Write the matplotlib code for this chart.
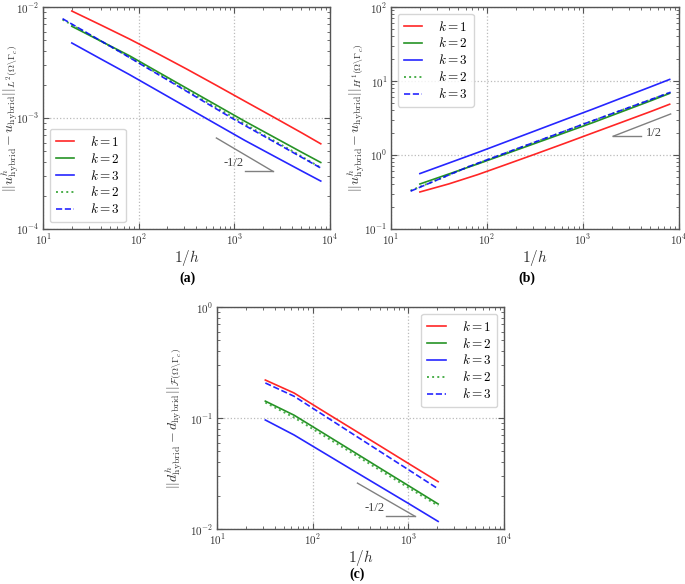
import numpy as np
import matplotlib
matplotlib.use('Agg')
import matplotlib.pyplot as plt
from matplotlib.ticker import LogLocator, FuncFormatter, NullFormatter

plt.rcParams['font.family'] = ['Liberation Serif', 'DejaVu Serif']
plt.rcParams['mathtext.fontset'] = 'cm'

# --- data ---
# solid curves start at 1/h = 20, dotted/dashed at 1/h = 16
inv_h_solid = [20, 40, 80, 160, 320, 640, 1280, 2560, 5120, 8000]
inv_h_alt = [16, 32, 64, 128, 256, 512, 1024, 2048, 4096, 8192]
inv_h_c = [32, 64, 128, 256, 512, 1024, 2048]

# (a) L2 error
a_k1 = [9.2e-3, 6.9e-3, 5.15e-3, 3.78e-3, 2.75e-3, 1.98e-3, 1.42e-3, 1.02e-3, 7.3e-4, 5.85e-4]
a_k2 = [6.7e-3, 4.94e-3, 3.64e-3, 2.59e-3, 1.845e-3, 1.314e-3, 9.36e-4, 6.76e-4, 4.88e-4, 3.97e-4]
a_k3 = [4.74e-3, 3.41e-3, 2.46e-3, 1.75e-3, 1.244e-3, 8.84e-4, 6.29e-4, 4.56e-4, 3.31e-4, 2.70e-4]
a_k2_alt = [7.7e-3, 5.5e-3, 3.95e-3, 2.8e-3, 1.98e-3, 1.4e-3, 9.9e-4, 7.0e-4, 5.0e-4, 3.52e-4]
a_k3_alt = [7.85e-3, 5.55e-3, 3.93e-3, 2.76e-3, 1.94e-3, 1.36e-3, 9.56e-4, 6.84e-4, 4.89e-4, 3.50e-4]

# (b) H1 error
b_k1 = [0.316, 0.406, 0.542, 0.746, 1.03, 1.43, 1.995, 2.78, 3.88, 4.85]
b_k2 = [0.405, 0.553, 0.755, 1.043, 1.44, 1.99, 2.75, 3.86, 5.42, 6.8]
b_k3 = [0.56, 0.777, 1.079, 1.515, 2.127, 2.99, 4.19, 5.93, 8.38, 10.5]
b_k2_alt = [0.33, 0.475, 0.69, 0.96, 1.34, 1.87, 2.62, 3.64, 5.05, 7.0]
b_k3_alt = [0.324, 0.474, 0.694, 0.968, 1.35, 1.88, 2.63, 3.65, 5.06, 7.05]

# (c) damage error
c_k1 = [0.22, 0.168, 0.116, 0.0804, 0.0557, 0.0385, 0.0267]
c_k2 = [0.142, 0.106, 0.0734, 0.0508, 0.0351, 0.0243, 0.0168]
c_k3 = [0.096, 0.0703, 0.0491, 0.0343, 0.024, 0.0168, 0.0117]
c_k2_alt = [0.138, 0.101, 0.070, 0.0486, 0.0336, 0.0233, 0.0162]
c_k3_alt = [0.207, 0.157, 0.107, 0.0728, 0.0496, 0.0338, 0.023]

# slope triangles: hypotenuse end points and start of the horizontal leg
tri_a = dict(x=[649, 2535], y=[6.6e-4, 3.3e-4], xh=1283, label='-1/2', lx=985, ly=3.9e-4)
tri_b = dict(x=[2061, 8185], y=[1.79, 3.58], xh=4055, label='1/2', lx=5500, ly=1.98)
tri_c = dict(x=[294, 1175], y=[0.0259, 0.0130], xh=585, label='-1/2', lx=449, ly=0.01545)

spine_col = '#555555'


def style_axes(ax, ylim):
    ax.set_xscale('log')
    ax.set_yscale('log')
    ax.set_xlim(10, 1e4)
    ax.set_ylim(*ylim)
    for s in ax.spines.values():
        s.set_color(spine_col)
        s.set_linewidth(1.0)
    ax.xaxis.set_major_locator(LogLocator(base=10, numticks=10))
    ax.yaxis.set_major_locator(LogLocator(base=10, numticks=10))
    ax.xaxis.set_minor_locator(LogLocator(base=10, subs=np.arange(2, 10), numticks=20))
    ax.yaxis.set_minor_locator(LogLocator(base=10, subs=np.arange(2, 10), numticks=20))
    fmt = FuncFormatter(lambda v, p: r'$10^{%d}$' % int(round(np.log10(v))))
    ax.xaxis.set_major_formatter(fmt)
    ax.yaxis.set_major_formatter(fmt)
    ax.xaxis.set_minor_formatter(NullFormatter())
    ax.yaxis.set_minor_formatter(NullFormatter())
    ax.tick_params(which='both', direction='in', top=True, right=True,
                   color=spine_col, labelcolor='#333333', labelsize=8, pad=2.5)
    ax.tick_params(which='major', length=4)
    ax.tick_params(which='minor', length=2)
    ax.grid(True, which='major', linestyle=':', color='#bbbbbb', linewidth=0.9)
    ax.set_xlabel(r'$1/h$', fontsize=11, color='#333333', labelpad=1)


def draw(ax, xs, ys_solid, xa, ys_alt, tri, legend_loc, ylabel, ylim, ylab_x):
    k1, k2, k3 = ys_solid
    k2a, k3a = ys_alt
    ax.plot(xs, k1, color='red', lw=1.2, alpha=0.85, label=r'$k=1$')
    ax.plot(xs, k2, color='green', lw=1.2, alpha=0.85, label=r'$k=2$')
    ax.plot(xs, k3, color='blue', lw=1.2, alpha=0.85, label=r'$k=3$')
    ax.plot(xa, k2a, color='#2ca02c', lw=1.4, ls=':', alpha=0.85, label=r'$k=2$')
    ax.plot(xa, k3a, color='blue', lw=1.2, ls='--', alpha=0.85, label=r'$k=3$')
    # slope triangle
    ax.plot(tri['x'], tri['y'], color='gray', lw=1.0)
    ax.plot([tri['xh'], tri['x'][1] if tri['y'][1] < tri['y'][0] else tri['x'][0]],
            [min(tri['y'])] * 2, color='gray', lw=1.0)
    ax.text(tri['lx'], tri['ly'], tri['label'], color='#444444', fontsize=9,
            ha='center', va='center')
    style_axes(ax, ylim)
    ax.set_ylabel(ylabel, fontsize=10, color='#333333', va='center')
    ax.yaxis.set_label_coords(ylab_x, 0.5)
    ax.legend(loc=legend_loc, fontsize=9.5, handlelength=1.4, handletextpad=1.2,
              labelspacing=0.22, borderpad=0.45, frameon=True)


fig = plt.figure(figsize=(6.85, 5.84), dpi=100)
ax_a = fig.add_axes([0.0628, 0.608, 0.419, 0.380])
ax_b = fig.add_axes([0.5708, 0.608, 0.4204, 0.380])
ax_c = fig.add_axes([0.3168, 0.0942, 0.419, 0.380])

draw(ax_a, inv_h_solid, (a_k1, a_k2, a_k3), inv_h_alt, (a_k2_alt, a_k3_alt), tri_a,
     'lower left', r'$||u^h_{\rm hybrid}-u_{\rm hybrid}||_{L^2(\Omega\backslash\Gamma_c)}$',
     (1e-4, 1e-2), -0.114)
draw(ax_b, inv_h_solid, (b_k1, b_k2, b_k3), inv_h_alt, (b_k2_alt, b_k3_alt), tri_b,
     'upper left', r'$||u^h_{\rm hybrid}-u_{\rm hybrid}||_{H^1(\Omega\backslash\Gamma_c)}$',
     (1e-1, 1e2), -0.12)
draw(ax_c, inv_h_c, (c_k1, c_k2, c_k3), inv_h_c, (c_k2_alt, c_k3_alt), tri_c,
     'upper right', r'$||d^h_{\rm hybrid}-d_{\rm hybrid}||_{\mathcal{F}(\Omega\backslash\Gamma_c)}$',
     (1e-2, 1e0), -0.15)

fig.text(0.273, 0.524, '(a)', fontsize=10, fontweight='bold', ha='center', va='center')
fig.text(0.769, 0.524, '(b)', fontsize=10, fontweight='bold', ha='center', va='center')
fig.text(0.521, 0.017, '(c)', fontsize=10, fontweight='bold', ha='center', va='center')

fig.savefig('out.png', dpi=100)
